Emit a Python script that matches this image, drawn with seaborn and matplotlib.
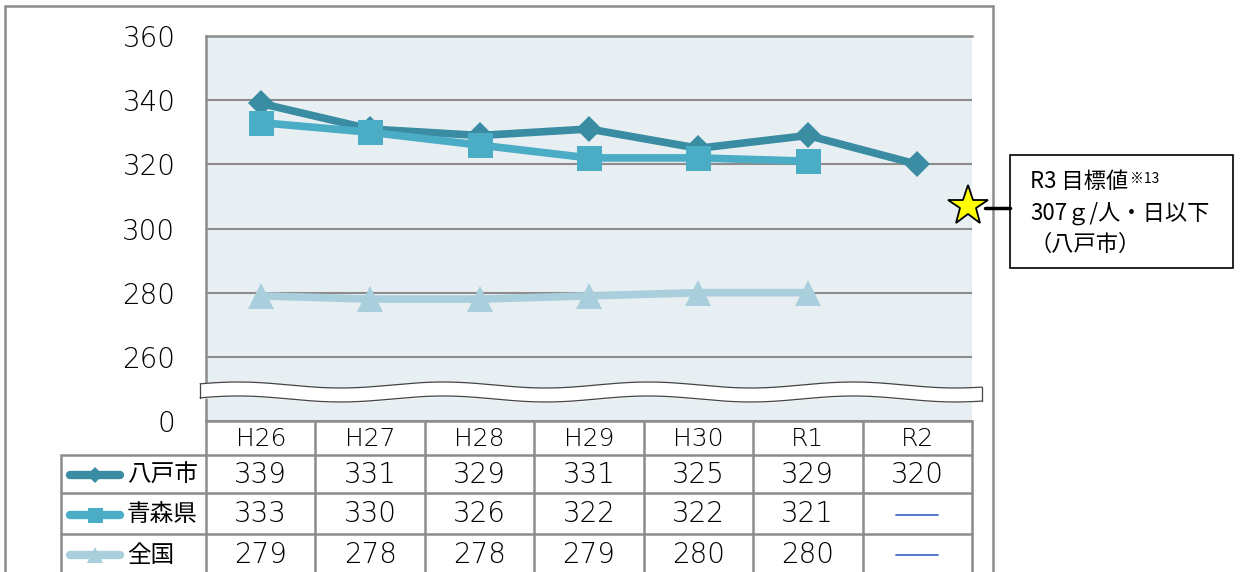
import numpy as np
import pandas as pd
import matplotlib
matplotlib.use("Agg")
import matplotlib.pyplot as plt
import seaborn as sns

# ---- data ----
years = ['H26', 'H27', 'H28', 'H29', 'H30', 'R1', 'R2']
hachinohe = [339, 331, 329, 331, 325, 329, 320]
aomori = [333, 330, 326, 322, 322, 321, np.nan]
zenkoku = [279, 278, 278, 279, 280, 280, np.nan]
series_names = ['八戸市', '青森県', '全国']
series_colors = ['#3A8CA3', '#4BACC6', '#A9CEDC']
series_markers = ['D', 's', '^']
marker_sizes = [13, 18, 19]
yticks = [240, 260, 280, 300, 320, 340, 360]
ytick_labels = ['0', '260', '280', '300', '320', '340', '360']
target_value = 307
target_lines = ['307ｇ/人・日以下', '（八戸市）']

sns.set_style("white")
plt.rcParams['font.family'] = ['DejaVu Sans', 'Noto Sans CJK JP']
plt.rcParams['font.weight'] = 'light'
plt.rcParams['text.color'] = 'black'
plt.rcParams['ytick.color'] = 'black'

W, H = 1243, 572
fig = plt.figure(figsize=(W / 100, H / 100), dpi=100)

# plot area (pixel layout)
px_l, px_r, px_t, px_b = 206, 972, 36, 421
ax = fig.add_axes([px_l / W, 1 - px_b / H, (px_r - px_l) / W, (px_b - px_t) / H])
ax.set_facecolor('#E8EFF3')

df = pd.DataFrame({'pos': range(len(years)),
                   '八戸市': hachinohe, '青森県': aomori, '全国': zenkoku})

for name, c, m, ms in zip(series_names, series_colors, series_markers, marker_sizes):
    sns.lineplot(data=df, x='pos', y=name, ax=ax, color=c, marker=m,
                 markersize=ms, markeredgewidth=0, linewidth=5.5,
                 legend=False, zorder=3)

# target star
ax.plot([6.46], [target_value], marker='*', markersize=30, color='#FFFF00',
        markeredgecolor='black', markeredgewidth=1.3, clip_on=False, zorder=6)

ax.set_xlim(-0.5, len(years) - 0.5)
ax.set_ylim(240, 360)
ax.set_yticks(yticks)
ax.set_yticklabels(ytick_labels, fontsize=20)
ax.tick_params(axis='y', length=0, pad=22)
ax.set_xticks([])
ax.set_xlabel('')
ax.set_ylabel('')
ax.grid(axis='y', color='#8C8C8C', linewidth=1.5)
ax.set_axisbelow(True)
for s in ['left', 'top', 'bottom']:
    ax.spines[s].set_color('#8C8C8C')
    ax.spines[s].set_linewidth(1.8)
ax.spines['right'].set_visible(False)

# overlay in pixel coordinates for frame, break, table and callout
ov = fig.add_axes([0, 0, 1, 1], zorder=5)
ov.set_xlim(0, W)
ov.set_ylim(H, 0)
ov.axis('off')
ov.patch.set_alpha(0)

gray = '#8C8C8C'
# outer frame
ov.plot([5, 5], [6, H], color=gray, lw=1.8)
ov.plot([5, 993], [6, 6], color=gray, lw=1.8)
ov.plot([993, 993], [6, H], color=gray, lw=1.8)

# axis break band
xs = np.linspace(200, 982, 500)
wave = -3 * np.sin(2 * np.pi * (xs - 200) / 205 + 0.4)
top = 385 + wave
bot = 399 + wave
ov.fill_between(xs, top, bot, color='white', zorder=2)
ov.plot(xs, top, color='#444444', lw=0.9, zorder=3)
ov.plot(xs, bot, color='#444444', lw=0.9, zorder=3)
ov.plot([200, 200], [top[0], bot[0]], color='#444444', lw=0.9)
ov.plot([982, 982], [top[-1], bot[-1]], color='#444444', lw=0.9)

# data table
col_w = (px_r - px_l) / len(years)
leg_l = 61
row_edges = [421, 455, 493, 534, 574]
lw_t = 1.8
for i in range(len(years) + 1):
    x = px_l + i * col_w
    ov.plot([x, x], [row_edges[0], H], color=gray, lw=lw_t)
ov.plot([leg_l, leg_l], [row_edges[1], H], color=gray, lw=lw_t)
for y in row_edges[1:4]:
    ov.plot([leg_l, px_r], [y, y], color=gray, lw=lw_t)

for i, yr in enumerate(years):
    ov.text(px_l + (i + 0.5) * col_w, (row_edges[0] + row_edges[1]) / 2 + 1, yr,
            ha='center', va='center', fontsize=18)

all_vals = [hachinohe, aomori, zenkoku]
for r, (name, vals, c, m, ms) in enumerate(zip(series_names, all_vals, series_colors,
                                                series_markers, marker_sizes)):
    yc = (row_edges[r + 1] + row_edges[r + 2]) / 2 + 1
    # legend swatch
    ov.plot([70, 120], [yc, yc], color=c, lw=6, solid_capstyle='round')
    ov.plot([95], [yc], marker=m, color=c, markersize=ms * 0.6, markeredgewidth=0)
    ov.text(127, yc, name, ha='left', va='center', fontsize=17,
            family=['Noto Sans CJK JP'], fontweight='normal')
    for i, v in enumerate(vals):
        xc = px_l + (i + 0.5) * col_w
        if np.isnan(v):
            ov.plot([xc - 21, xc + 21], [yc, yc], color='#4472C4', lw=1.3)
        else:
            ov.text(xc, yc, f'{int(v)}', ha='center', va='center', fontsize=20)

# callout
ov.plot([985, 1010], [208, 208], color='black', lw=2.5, zorder=4)
ov.add_patch(plt.Rectangle((1010, 155), 223, 113, facecolor='white',
                           edgecolor='black', lw=1.2))
cjk = dict(family=['Noto Sans CJK JP'], fontweight='normal')
t1 = ov.text(1030, 182, 'R3 目標値', ha='left', va='center', fontsize=16, **cjk)
ov.annotate('※13', xy=(1, 1), xycoords=t1, xytext=(1, -1), textcoords='offset points',
            ha='left', va='top', fontsize=10, **cjk)
ov.text(1030, 213, target_lines[0], ha='left', va='center', fontsize=16, **cjk)
ov.text(1030, 244, target_lines[1], ha='left', va='center', fontsize=16, **cjk)

fig.savefig('out.png', dpi=100)
